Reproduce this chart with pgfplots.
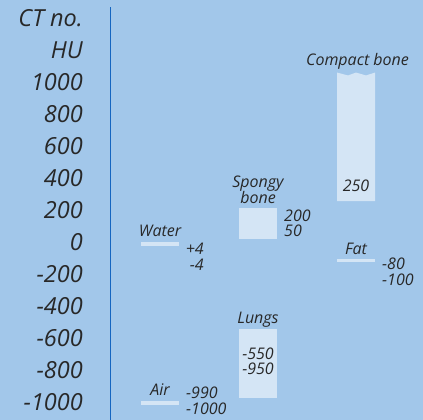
\documentclass[border=0pt]{standalone}
\usepackage{pgfplots}
\pgfplotsset{compat=1.18}
\usepackage{fontspec}
\setmainfont{Open Sans}
\definecolor{bgblue}{RGB}{162,199,234}
\definecolor{barcol}{RGB}{212,229,245}
\definecolor{linecol}{RGB}{21,101,192}
\definecolor{txt}{RGB}{40,40,40}
\begin{document}
\begin{tikzpicture}[lab/.style={font=\fontsize{16}{16}\selectfont\itshape, text=txt, inner sep=0pt}]
\begin{axis}[
 name=main,
 scale only axis, width=423pt, height=420pt,
 xmin=0, xmax=423, ymin=-1112.5, ymax=1512.5,
 axis background/.style={fill=bgblue},
 axis line style={draw=none},
 major tick length=0pt,
 xtick=\empty,
 ytick={-1000,-800,-600,-400,-200,0,200,400,600,800,1000},
 yticklabels={-1000,-800,-600,-400,-200,0,200,400,600,800,1000},
 yticklabel style={anchor=east, inner sep=0pt, xshift=83pt, font=\fontsize{23.5}{28}\selectfont\itshape, text=txt},
 clip=false,
]
% vertical axis line
\addplot[linecol, line width=1.4pt] coordinates {(110.6,-1112.5) (110.6,1467)};
% bars
\addplot[fill=barcol, draw=none] coordinates {(141,-23) (179,-23) (179,2) (141,2)} -- cycle;
\addplot[fill=barcol, draw=none] coordinates {(141,-1017) (179,-1017) (179,-992) (141,-992)} -- cycle;
\addplot[fill=barcol, draw=none] coordinates {(239,19) (277,19) (277,212) (239,212)} -- cycle;
\addplot[fill=barcol, draw=none] coordinates {(239,-975) (277,-975) (277,-544) (239,-544)} -- cycle;
\addplot[fill=barcol, draw=none] coordinates {(337,256) (375,256) (375,1059) (366,1041) (356,1059) (348,1041) (337,1059)} -- cycle;
\addplot[fill=barcol, draw=none] coordinates {(337,-125) (375,-125) (375,-106) (337,-106)} -- cycle;
% labels
\node[lab, anchor=base east, font=\fontsize{23.5}{28}\selectfont\itshape] at (axis cs:83,1346) {CT no.};
\node[lab, anchor=base east, font=\fontsize{23.5}{28}\selectfont\itshape] at (axis cs:83,1148) {HU};
\node[lab, anchor=base] at (axis cs:160,33) {Water};
\node[lab, anchor=base east] at (axis cs:204,-81) {+4};
\node[lab, anchor=base east] at (axis cs:204,-179) {-4};
\node[lab, anchor=base] at (axis cs:258,342) {Spongy};
\node[lab, anchor=base] at (axis cs:258,242) {bone};
\node[lab, anchor=base west] at (axis cs:284,131) {200};
\node[lab, anchor=base west] at (axis cs:284,33) {50};
\node[lab, anchor=base] at (axis cs:258,-512) {Lungs};
\node[lab, anchor=base] at (axis cs:258,-733) {-550};
\node[lab, anchor=base] at (axis cs:258,-831) {-950};
\node[lab, anchor=base] at (axis cs:160,-961) {Air};
\node[lab, anchor=base west] at (axis cs:186,-981) {-990};
\node[lab, anchor=base west] at (axis cs:186,-1077) {-1000};
\node[lab, anchor=base] at (axis cs:357.5,1100) {Compact bone};
\node[lab, anchor=base] at (axis cs:356,314) {250};
\node[lab, anchor=base] at (axis cs:356,-81) {Fat};
\node[lab, anchor=base west] at (axis cs:382,-175) {-80};
\node[lab, anchor=base west] at (axis cs:382,-269) {-100};
\end{axis}
\pgfresetboundingbox
\useasboundingbox (main.south west) rectangle (main.north east);
\end{tikzpicture}
\end{document}
